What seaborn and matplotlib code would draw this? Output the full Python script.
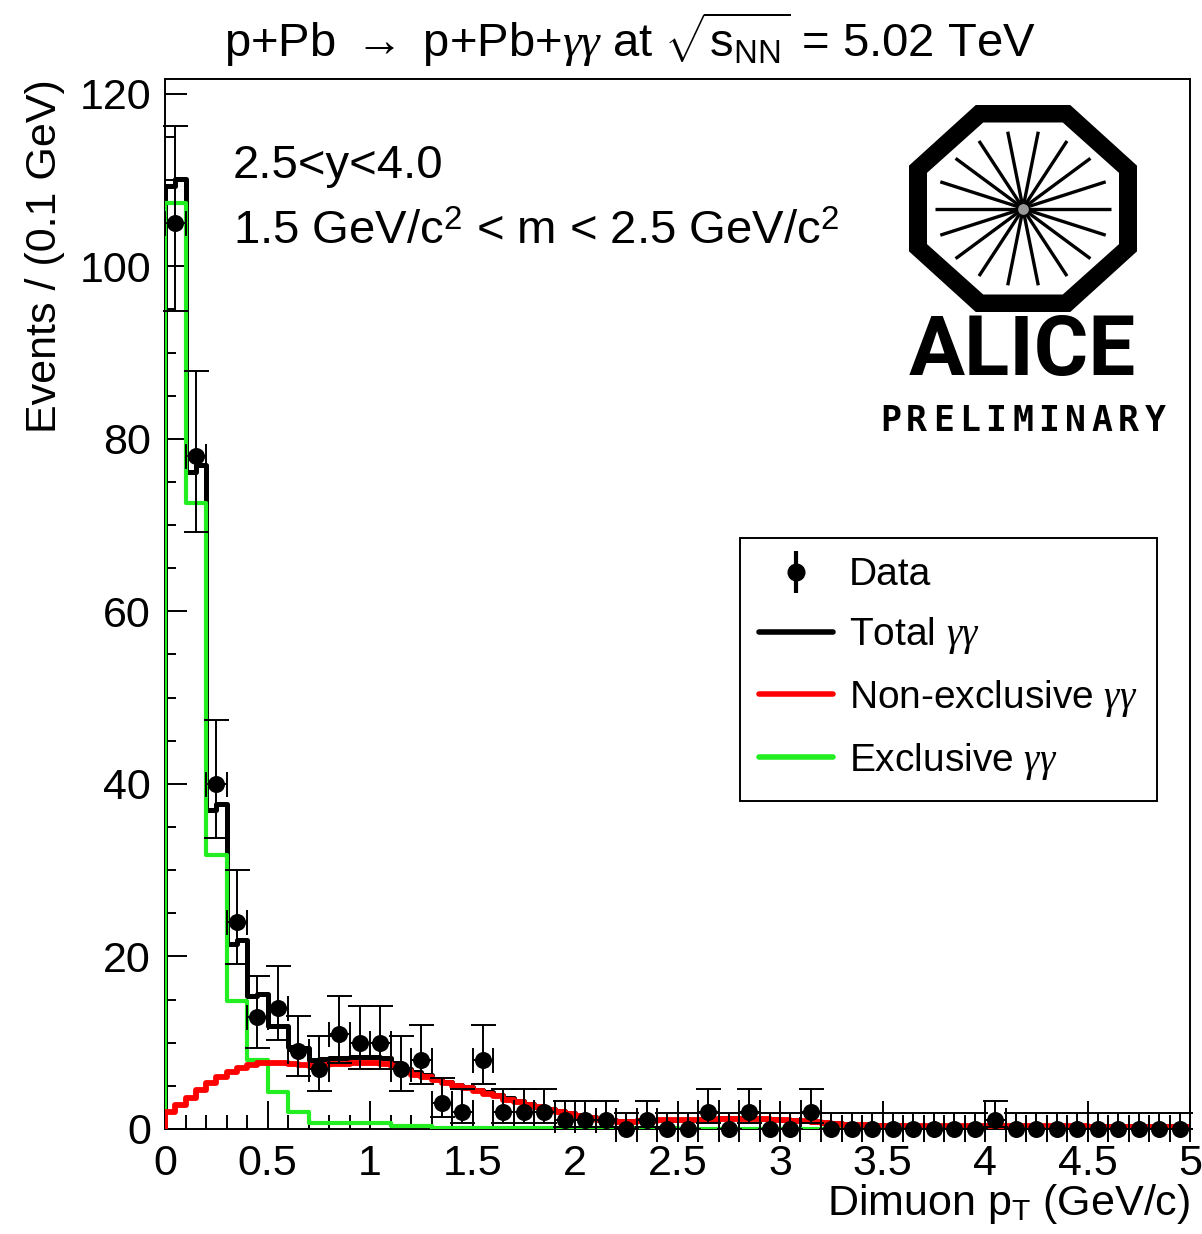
import numpy as np
import pandas as pd
import matplotlib
matplotlib.use("Agg")
import matplotlib.pyplot as plt
from matplotlib.lines import Line2D
from matplotlib.patches import Polygon
from matplotlib.ticker import MultipleLocator, FuncFormatter
import seaborn as sns

# Style: ROOT-like look
sns.set_style("ticks")
plt.rcParams['font.family'] = ['Liberation Sans', 'DejaVu Sans']
plt.rcParams['mathtext.fontset'] = 'custom'
plt.rcParams['mathtext.rm'] = 'Liberation Sans'
plt.rcParams['mathtext.it'] = 'Liberation Serif:italic'
plt.rcParams['mathtext.bf'] = 'Liberation Sans:bold'
plt.rcParams['mathtext.sf'] = 'Liberation Sans'
for key in ['text.color', 'axes.labelcolor', 'xtick.color', 'ytick.color', 'axes.edgecolor']:
    plt.rcParams[key] = 'black'

RED = '#ff0000'
GREEN = '#22ee22'

# Data: 0.1 GeV bins from 0 to 5 GeV/c
data_edges = np.linspace(0, 5, 51)
data_counts = [105, 78, 40, 24, 13, 14, 9, 7, 11, 10,
               10, 7, 8, 3, 2, 8, 2, 2, 2, 1,
               1, 1, 0, 1, 0, 0, 2, 0, 2, 0,
               0, 2, 0, 0, 0, 0, 0, 0, 0, 0,
               1, 0, 0, 0, 0, 0, 0, 0, 0, 0]
err_lo = [10.2, 8.8, 6.3, 4.9, 3.6, 3.7, 2.9, 2.6, 3.3, 3.1,
          3.1, 2.6, 2.8, 1.6, 1.3, 2.8, 1.3, 1.3, 1.3, 0.8,
          0.8, 0.8, 0.0, 0.8, 0.0, 0.0, 1.3, 0.0, 1.3, 0.0,
          0.0, 1.3, 0.0, 0.0, 0.0, 0.0, 0.0, 0.0, 0.0, 0.0,
          0.8, 0.0, 0.0, 0.0, 0.0, 0.0, 0.0, 0.0, 0.0, 0.0]
err_hi = [11.3, 9.9, 7.4, 6.0, 4.7, 4.9, 4.1, 3.8, 4.4, 4.3,
          4.3, 3.8, 4.0, 2.9, 2.6, 4.0, 2.6, 2.6, 2.6, 2.3,
          2.3, 2.3, 1.8, 2.3, 1.8, 1.8, 2.6, 1.8, 2.6, 1.8,
          1.8, 2.6, 1.8, 1.8, 1.8, 1.8, 1.8, 1.8, 1.8, 1.8,
          2.3, 1.8, 1.8, 1.8, 1.8, 1.8, 1.8, 1.8, 1.8, 1.8]

# Templates: 0.05 GeV bins from 0 to 5 GeV/c
pt_edges = np.linspace(0, 5, 101)
nonexcl_gg = [2.0, 2.8, 3.6, 4.5, 5.3, 6.0, 6.6, 7.1, 7.4, 7.6,
              7.6, 7.6, 7.5, 7.4, 7.3, 7.4, 7.5, 7.5, 7.6, 7.6,
              7.6, 7.5, 7.3, 6.7, 6.3, 6.0, 5.7, 5.3, 5.0, 4.7,
              4.4, 4.1, 3.8, 3.4, 3.1, 2.8, 2.5, 2.2, 2.0, 1.7,
              1.5, 1.3, 1.1, 0.95, 0.85, 0.85, 0.9, 0.95, 1.0, 1.0,
              1.0, 1.05, 1.1, 1.15, 1.2, 1.2, 1.2, 1.2, 1.15, 1.1,
              1.0, 0.95, 0.9, 0.8, 0.7, 0.6, 0.5, 0.45, 0.42, 0.4,
              0.38, 0.36, 0.35, 0.34, 0.33, 0.32, 0.31, 0.3, 0.3, 0.3,
              0.3, 0.3, 0.3, 0.3, 0.3, 0.3, 0.3, 0.3, 0.3, 0.3,
              0.28, 0.28, 0.28, 0.28, 0.28, 0.27, 0.27, 0.27, 0.27, 0.27]
excl_gg = [107.3, 107.3, 72.5, 72.5, 31.7, 31.7, 14.8, 14.8, 8.0, 8.0,
           4.3, 4.3, 2.0, 2.0, 0.7, 0.7, 0.7, 0.7, 0.7, 0.7,
           0.7, 0.7, 0.3, 0.3, 0.3, 0.3, 0.15, 0.15, 0.15, 0.15,
           0.15, 0.15, 0.15, 0.15, 0.15, 0.15, 0.1, 0.1, 0.1, 0.1,
           0.1, 0.1, 0.1, 0.1, 0.1, 0.1, 0.1, 0.1, 0.1, 0.1,
           0.05, 0.05, 0.05, 0.05, 0.05, 0.05, 0.05, 0.05, 0.05, 0.05,
           0.05, 0.05, 0.05, 0.05, 0.05, 0.05, 0.05, 0.05, 0.05, 0.05,
           0.05, 0.05, 0.05, 0.05, 0.05, 0.05, 0.05, 0.05, 0.05, 0.05,
           0.05, 0.05, 0.05, 0.05, 0.05, 0.05, 0.05, 0.05, 0.05, 0.05,
           0.05, 0.05, 0.05, 0.05, 0.05, 0.05, 0.05, 0.05, 0.05, 0.05]
total_gg = [109.3, 110.1, 76.1, 77.0, 37.0, 37.7, 21.4, 21.9, 15.4, 15.6,
            11.9, 11.9, 9.5, 9.4, 8.0, 8.1, 8.2, 8.2, 8.3, 8.3,
            8.3, 8.2, 7.6, 7.0, 6.6, 6.3, 5.85, 5.45, 5.15, 4.85,
            4.55, 4.25, 3.95, 3.55, 3.25, 2.95, 2.6, 2.3, 2.1, 1.8,
            1.6, 1.4, 1.2, 1.05, 0.95, 0.95, 1.0, 1.05, 1.1, 1.1,
            1.05, 1.1, 1.15, 1.2, 1.25, 1.25, 1.25, 1.25, 1.2, 1.15,
            1.05, 1.0, 0.95, 0.85, 0.75, 0.65, 0.55, 0.5, 0.47, 0.45,
            0.43, 0.41, 0.4, 0.39, 0.38, 0.37, 0.36, 0.35, 0.35, 0.35,
            0.35, 0.35, 0.35, 0.35, 0.35, 0.35, 0.35, 0.35, 0.35, 0.35,
            0.33, 0.33, 0.33, 0.33, 0.33, 0.32, 0.32, 0.32, 0.32, 0.32]

legend_labels = ['Data', r'Total $\gamma\gamma$', r'Non-exclusive $\gamma\gamma$',
                 r'Exclusive $\gamma\gamma$']

W, H = 1202, 1234
fig = plt.figure(figsize=(W / 100, H / 100), dpi=100)
ax = fig.add_axes([165 / W, 105 / H, 1025 / W, 1050 / H])

centers = (pt_edges[:-1] + pt_edges[1:]) / 2
for vals, col, lw, z in [(total_gg, 'black', 3.6, 2),
                         (excl_gg, GREEN, 3.0, 3),
                         (nonexcl_gg, RED, 4.2, 4)]:
    df = pd.DataFrame({'pt': centers, 'w': vals})
    sns.histplot(data=df, x='pt', weights='w', binwidth=0.05, binrange=(0, 5),
                 element='step', fill=False, color=col, linewidth=lw,
                 zorder=z, ax=ax)
    ax.vlines(pt_edges[0], 0, vals[0], color=col, linewidth=lw, zorder=z)

data_pt = (data_edges[:-1] + data_edges[1:]) / 2
ax.errorbar(data_pt, data_counts, yerr=[err_lo, err_hi], xerr=0.05, fmt='none',
            ecolor='black', elinewidth=1.4, capsize=9, capthick=1.4,
            zorder=5, clip_on=False)
sns.scatterplot(x=data_pt, y=data_counts, color='black', s=150, linewidth=0,
                zorder=6, clip_on=False, legend=False, ax=ax)

ax.set_xlim(0, 5)
ax.set_ylim(0, 121.7)
ax.xaxis.set_major_locator(MultipleLocator(0.5))
ax.xaxis.set_minor_locator(MultipleLocator(0.1))
ax.yaxis.set_major_locator(MultipleLocator(20))
ax.yaxis.set_minor_locator(MultipleLocator(5))
ax.xaxis.set_major_formatter(FuncFormatter(lambda v, _: f'{v:g}'))
ax.tick_params(which='both', direction='in', top=False, right=False,
               labelsize=31, width=1.4, color='black', labelcolor='black')
ax.tick_params(axis='x', which='major', length=20, pad=11)
ax.tick_params(axis='x', which='minor', length=10)
ax.tick_params(axis='y', which='major', length=16, pad=10)
ax.tick_params(axis='y', which='minor', length=8)
for sp in ax.spines.values():
    sp.set_linewidth(1.4)
    sp.set_color('black')

ax.set_xlabel(r'Dimuon p$_{\mathrm{T}}$ (GeV/c)', fontsize=31, loc='right')
ax.xaxis.set_label_coords(1.0, -0.05)
ax.set_ylabel('Events / (0.1 GeV)', fontsize=31, loc='top')
ax.yaxis.set_label_coords(-0.098, 1.0)

fig.text(630 / W, 1 - 40 / H,
         r'p+Pb $\rightarrow$ p+Pb+$\gamma\gamma$ at $\sqrt{\mathrm{s}_{\mathrm{NN}}}$ = 5.02 TeV',
         ha='center', va='center', fontsize=34)
fig.text(233 / W, 1 - 166 / H, '2.5<y<4.0', ha='left', va='center', fontsize=34)
fig.text(233 / W, 1 - 232 / H, r'1.5 GeV/c$^{2}$ < m < 2.5 GeV/c$^{2}$',
         ha='left', va='center', fontsize=34)

# Legend
data_handle = (Line2D([], [], color='black', marker='|', markersize=30,
                      markeredgewidth=3, linestyle='none'),
               Line2D([], [], color='black', marker='o', markersize=12,
                      linestyle='none'))
handles = [data_handle,
           Line2D([], [], color='black', lw=4),
           Line2D([], [], color=RED, lw=4),
           Line2D([], [], color=GREEN, lw=4)]
leg = ax.legend(handles, legend_labels, loc='upper left',
                bbox_to_anchor=(575 / 1025, (1129 - 538) / 1050),
                fontsize=28, frameon=True, fancybox=False, edgecolor='black',
                framealpha=1, borderpad=0.5, handlelength=1.9,
                handletextpad=0.4, labelspacing=0.56, borderaxespad=0)
leg.get_frame().set_linewidth(1.4)

# ALICE Preliminary logo
lax = fig.add_axes([870 / W, 1 - 440 / H, 320 / W, 350 / H])
lax.set_xlim(870, 1190)
lax.set_ylim(440, 90)
lax.axis('off')
cx, cy = 1023, 208.5
oct_ang = np.deg2rad(22.5 + 45 * np.arange(8))
c = np.cos(np.pi / 8)
for ax_x, ax_y, col in [(114, 103.5, 'black'), (96, 86, 'white')]:
    verts = np.column_stack([cx + ax_x / c * np.cos(oct_ang), cy + ax_y / c * np.sin(oct_ang)])
    lax.add_patch(Polygon(verts, closed=True, facecolor=col, edgecolor='none'))
for a in np.deg2rad(np.arange(0, 360, 20)):
    lax.plot([cx + 4 * np.cos(a), cx + 88 * np.cos(a)],
             [cy + 4 * np.sin(a), cy + 78 * np.sin(a)],
             color='black', lw=2.4, solid_capstyle='butt')
lax.scatter([cx], [cy], s=60, color='#999999', zorder=3, linewidth=0)
lax.text(1022, 353, 'ALICE', ha='center', va='center', fontsize=60,
         fontweight='bold', family=['Roboto', 'DejaVu Sans'])
for i, ch in enumerate('PRELIMINARY'):
    lax.text(877 + (i + 0.5) * 291 / 11, 421, ch, ha='center', va='center',
             fontsize=25, fontweight='bold', family=['DejaVu Sans Mono'])

fig.savefig('out.png', dpi=100)
